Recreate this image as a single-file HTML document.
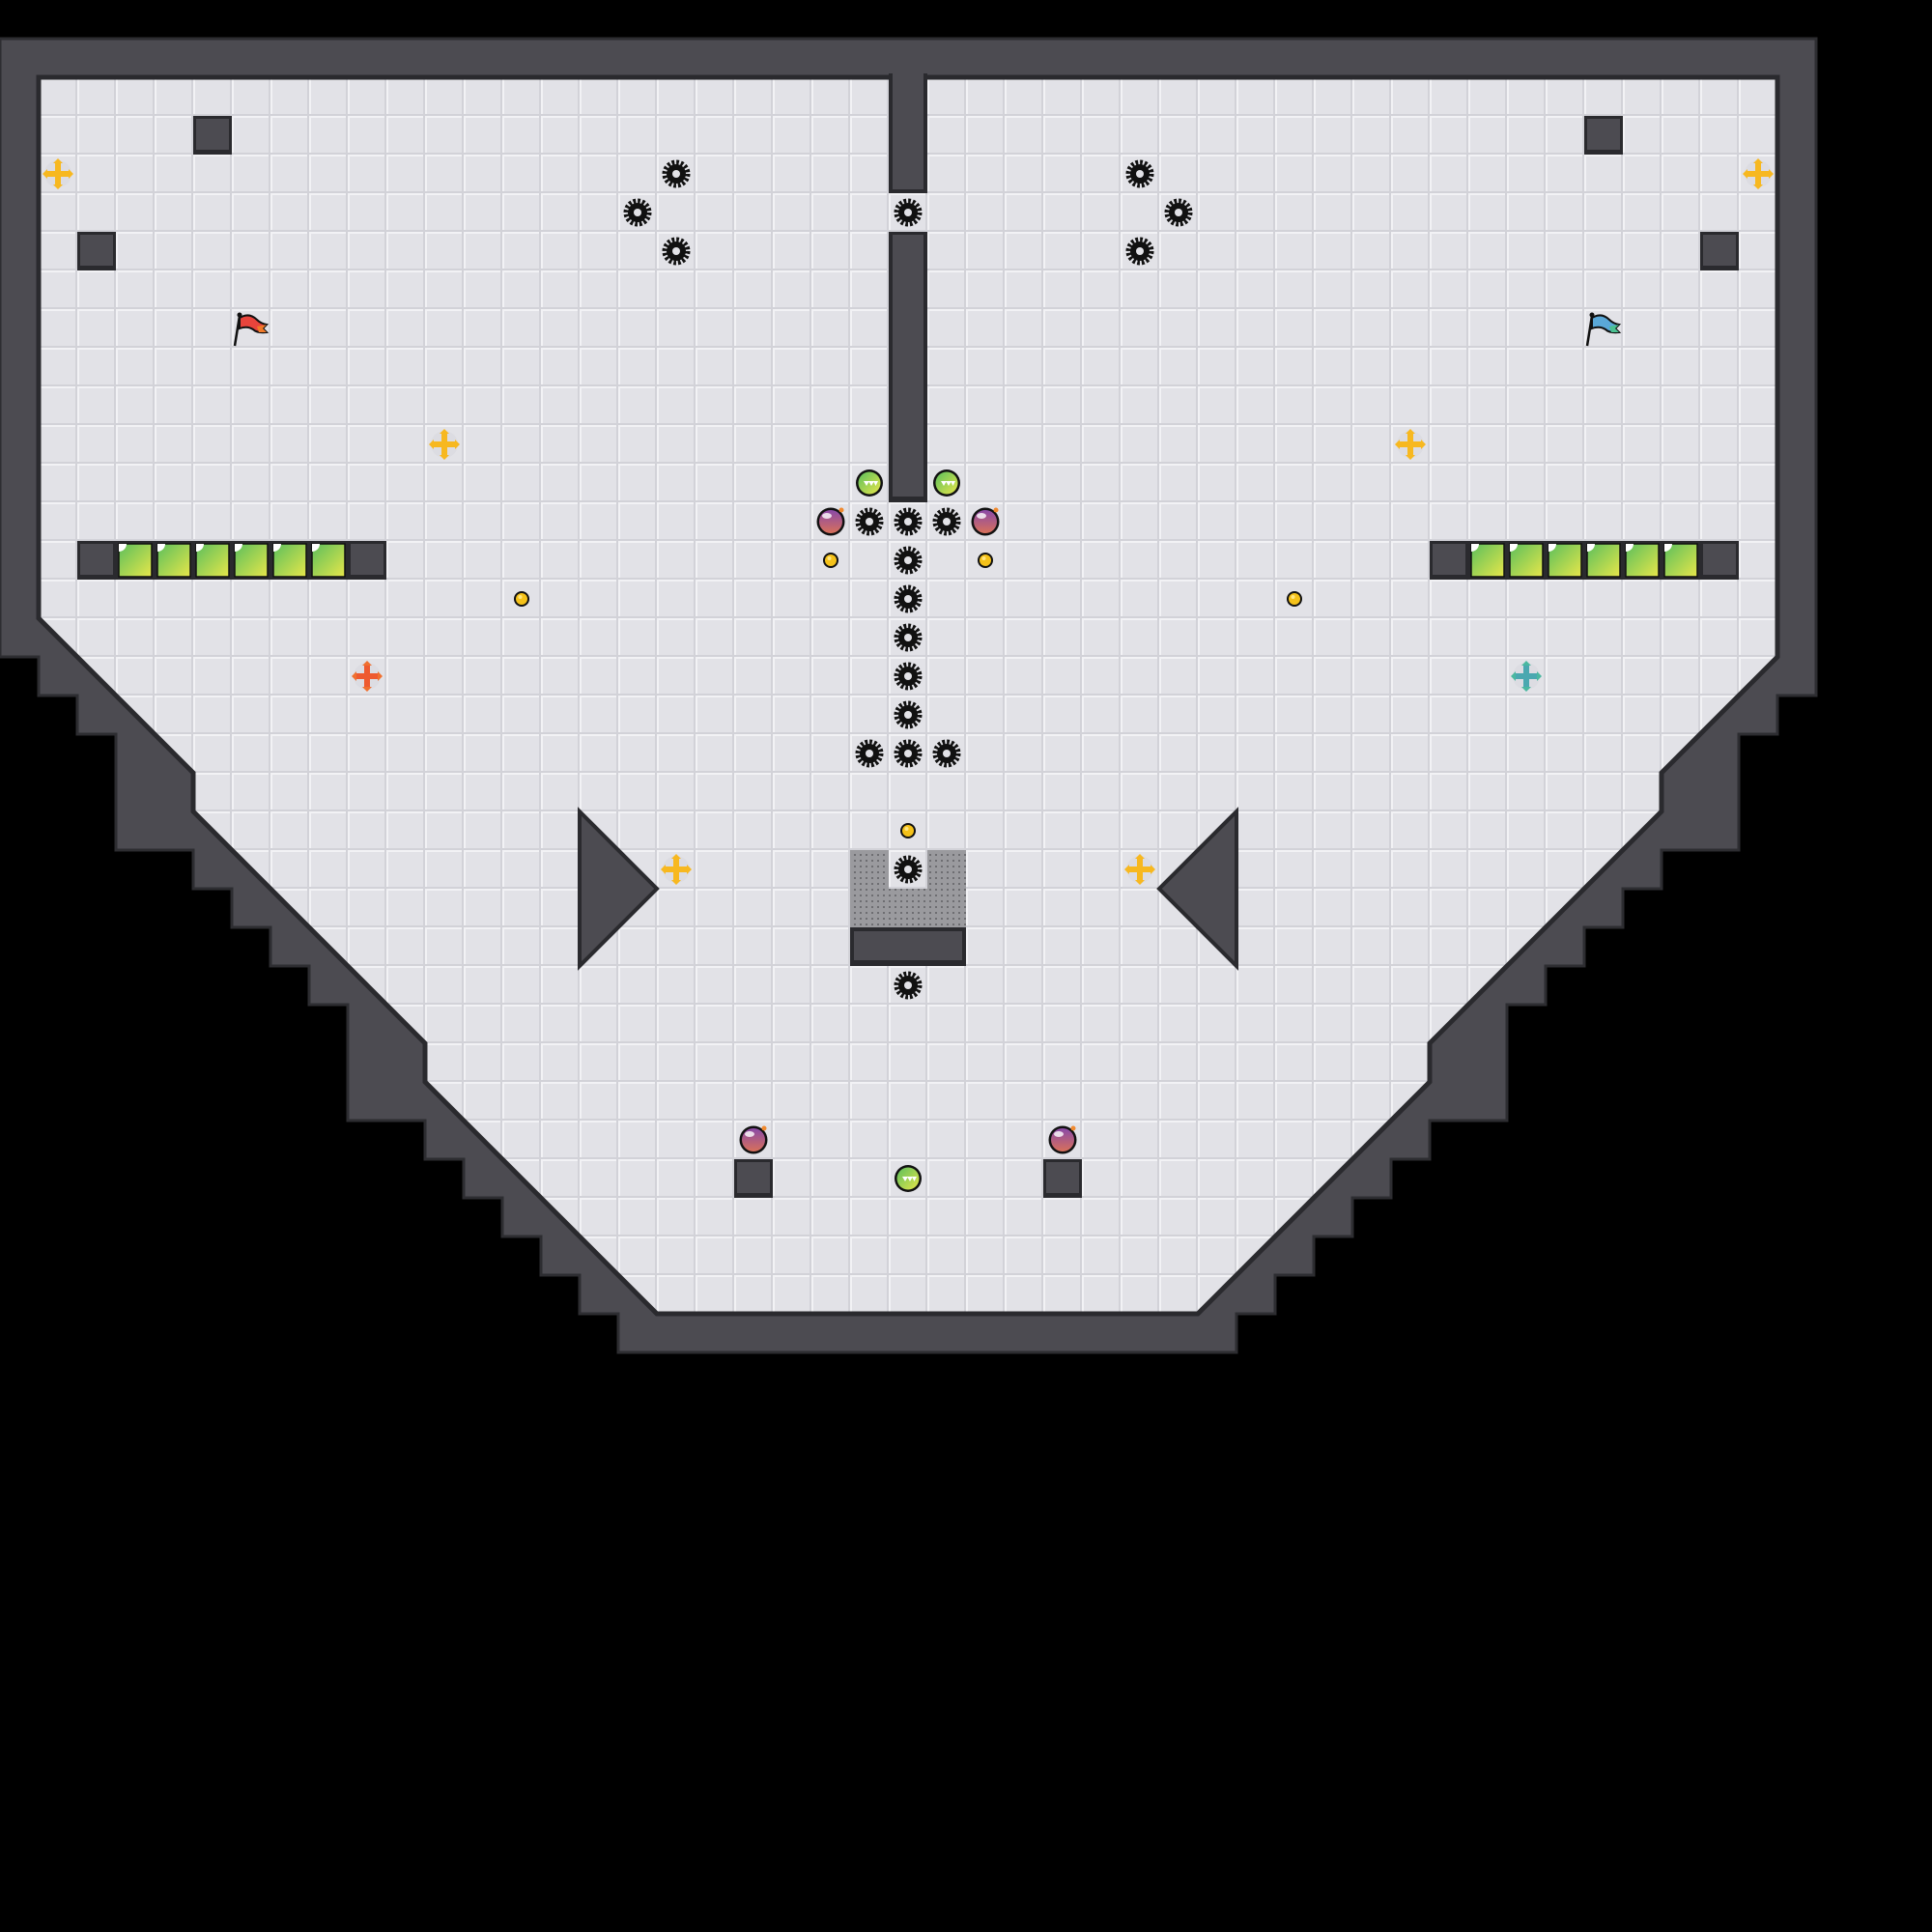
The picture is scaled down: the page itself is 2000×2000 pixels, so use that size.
<!DOCTYPE html>
<html><head><meta charset="utf-8"><style>
html,body{margin:0;padding:0;background:#000;}
svg{display:block;}
</style></head><body>
<svg width="2000" height="2000" viewBox="0 0 2000 2000" xmlns="http://www.w3.org/2000/svg">
<defs>
<pattern id="tile" width="40" height="40" patternUnits="userSpaceOnUse">
<rect width="40" height="40" fill="#e2e2e7"/>
<rect x="0" y="0" width="40" height="2" fill="#f2f2f5"/>
<rect x="0" y="0" width="2" height="40" fill="#f2f2f5"/>
<rect x="0" y="38" width="40" height="2" fill="#d2d2d8"/>
<rect x="38" y="0" width="2" height="40" fill="#d2d2d8"/>
</pattern>
<pattern id="dots" width="6" height="6" patternUnits="userSpaceOnUse">
<rect width="6" height="6" fill="#9a9a9e"/>
<rect x="2" y="2" width="2" height="2" fill="#6e6e72"/>
</pattern>
<linearGradient id="gg" x1="0" y1="0" x2="1" y2="1">
<stop offset="0" stop-color="#5cbf5c"/><stop offset="1" stop-color="#e6e64a"/>
</linearGradient>
<linearGradient id="pb" x1="0" y1="0" x2="0" y2="1">
<stop offset="0" stop-color="#8a4aa8"/><stop offset="1" stop-color="#d8705a"/>
</linearGradient>
<g id="gear">
<circle r="11.5" fill="none" stroke="#111" stroke-width="6" stroke-dasharray="2.6 1.9"/>
<circle r="10" fill="#111"/>
<circle r="4" fill="#e2e2e7"/>
</g>
<g id="wb">
<rect x="0" y="0" width="40" height="40" fill="#2a2a2e"/>
<rect x="3" y="3" width="34" height="32" fill="#4c4b51"/>
</g>
<g id="gate">
<rect x="0" y="0" width="40" height="40" fill="#2a2a2e"/>
<rect x="3" y="3" width="34" height="34" fill="url(#gg)" stroke="#111" stroke-width="1.5"/>
<path d="M3 3 h8 a8 8 0 0 1 -8 8 z" fill="#fff"/>
</g>
<g id="boost">
<circle r="14" fill="#111"/>
<circle r="11.5" fill="url(#gg)"/>
<path d="M-6 -2 l3 5 l3 -5 z M-1 -2 l3 5 l3 -5 z M4 -2 l2.5 5 l2.5 -5 z" fill="#fff"/>
</g>
<g id="bomb">
<circle r="14.5" fill="#111"/>
<circle r="12" fill="url(#pb)"/>
<ellipse cx="-4" cy="-6" rx="5" ry="3" fill="#fff" opacity="0.8"/>
<circle cx="11" cy="-12" r="2.5" fill="#f08a30"/>
</g>
<g id="dot">
<circle r="8" fill="#111"/>
<circle r="6" fill="#f5c21a"/>
<circle cx="-1.5" cy="-2" r="2" fill="#ffe680"/>
</g>
<g id="ycross">
<circle r="14" fill="#dcdce2"/>
<path d="M-3 -12 h6 v9 h9 v6 h-9 v9 h-6 v-9 h-9 v-6 h9 z" fill="#f7b820"/>
<path d="M0 -16 l5 5 h-10 z M0 16 l5 -5 h-10 z M-16 0 l5 5 v-10 z M16 0 l-5 5 v-10 z" fill="#f7b820"/>
</g>
</defs>

<!-- outer wall -->
<polygon fill="#4c4b51" stroke="#2d2d31" stroke-width="3" points="0,40 1880,40 1880,720 1840,720 1840,760 1800,760 1800,880 1720,880 1720,920 1680,920 1680,960 1640,960 1640,1000 1600,1000 1600,1040 1560,1040 1560,1160 1480,1160 1480,1200 1440,1200 1440,1240 1400,1240 1400,1280 1360,1280 1360,1320 1320,1320 1320,1360 1280,1360 1280,1400 640,1400 640,1360 600,1360 600,1320 560,1320 560,1280 520,1280 520,1240 480,1240 480,1200 440,1200 440,1160 360,1160 360,1040 320,1040 320,1000 280,1000 280,960 240,960 240,920 200,920 200,880 120,880 120,760 80,760 80,720 40,720 40,680 0,680"/>

<!-- floor -->
<polygon fill="url(#tile)" stroke="#2a2a2e" stroke-width="5" stroke-linejoin="miter" points="40,80 1840,80 1840,680 1720,800 1720,840 1480,1080 1480,1120 1240,1360 680,1360 440,1120 440,1080 200,840 200,800 40,640"/>

<!-- center wall -->
<rect x="920" y="76" width="40" height="124" fill="#2a2a2e"/>
<rect x="924" y="76" width="32" height="120" fill="#4c4b51"/>
<rect x="920" y="240" width="40" height="280" fill="#2a2a2e"/>
<rect x="924" y="243" width="32" height="271" fill="#4c4b51"/>

<!-- wall blocks -->
<use href="#wb" x="200" y="120"/>
<use href="#wb" x="80" y="240"/>
<use href="#wb" x="1640" y="120"/>
<use href="#wb" x="1760" y="240"/>
<use href="#wb" x="760" y="1200"/>
<use href="#wb" x="1080" y="1200"/>

<!-- gate rows -->
<use href="#wb" x="80" y="560"/>
<use href="#wb" x="360" y="560"/>
<use href="#gate" x="120" y="560"/><use href="#gate" x="160" y="560"/><use href="#gate" x="200" y="560"/><use href="#gate" x="240" y="560"/><use href="#gate" x="280" y="560"/><use href="#gate" x="320" y="560"/>
<use href="#wb" x="1480" y="560"/>
<use href="#wb" x="1760" y="560"/>
<use href="#gate" x="1520" y="560"/><use href="#gate" x="1560" y="560"/><use href="#gate" x="1600" y="560"/><use href="#gate" x="1640" y="560"/><use href="#gate" x="1680" y="560"/><use href="#gate" x="1720" y="560"/>

<!-- center structure -->
<rect x="880" y="880" width="40" height="40" fill="url(#dots)"/>
<rect x="960" y="880" width="40" height="40" fill="url(#dots)"/>
<rect x="880" y="920" width="40" height="40" fill="url(#dots)"/>
<rect x="920" y="920" width="40" height="40" fill="url(#dots)"/>
<rect x="960" y="920" width="40" height="40" fill="url(#dots)"/>
<rect x="880" y="960" width="120" height="40" fill="#2a2a2e"/>
<rect x="884" y="964" width="112" height="30" fill="#4c4b51"/>

<!-- triangles -->
<polygon points="600,840 680,920 600,1000" fill="#4c4b51" stroke="#2a2a2e" stroke-width="4"/>
<polygon points="1280,840 1200,920 1280,1000" fill="#4c4b51" stroke="#2a2a2e" stroke-width="4"/>

<!-- gears -->
<use href="#gear" x="700" y="180"/><use href="#gear" x="660" y="220"/><use href="#gear" x="700" y="260"/>
<use href="#gear" x="1180" y="180"/><use href="#gear" x="1220" y="220"/><use href="#gear" x="1180" y="260"/>
<use href="#gear" x="940" y="220"/>
<use href="#gear" x="900" y="540"/><use href="#gear" x="940" y="540"/><use href="#gear" x="980" y="540"/>
<use href="#gear" x="940" y="580"/><use href="#gear" x="940" y="620"/><use href="#gear" x="940" y="660"/><use href="#gear" x="940" y="700"/><use href="#gear" x="940" y="740"/>
<use href="#gear" x="900" y="780"/><use href="#gear" x="940" y="780"/><use href="#gear" x="980" y="780"/>
<rect x="922" y="882" width="36" height="36" fill="#e2e2e7"/>
<use href="#gear" x="940" y="900"/>
<use href="#gear" x="940" y="1020"/>

<!-- boosters -->
<use href="#boost" x="900" y="500"/><use href="#boost" x="980" y="500"/><use href="#boost" x="940" y="1220"/>
<!-- bombs -->
<use href="#bomb" x="860" y="540"/><use href="#bomb" x="1020" y="540"/><use href="#bomb" x="780" y="1180"/><use href="#bomb" x="1100" y="1180"/>
<!-- dots -->
<use href="#dot" x="860" y="580"/><use href="#dot" x="1020" y="580"/><use href="#dot" x="540" y="620"/><use href="#dot" x="1340" y="620"/><use href="#dot" x="940" y="860"/>
<!-- yellow crosses -->
<use href="#ycross" x="60" y="180"/><use href="#ycross" x="1820" y="180"/><use href="#ycross" x="460" y="460"/><use href="#ycross" x="1460" y="460"/><use href="#ycross" x="700" y="900"/><use href="#ycross" x="1180" y="900"/>
<!-- orange cross -->
<g transform="translate(380,700)">
<circle r="14" fill="#dcdce2"/>
<path d="M-3 -12 h6 v9 h9 v6 h-9 v9 h-6 v-9 h-9 v-6 h9 z" fill="#ee5a30"/>
<path d="M0 -16 l5 5 h-10 z M0 16 l5 -5 h-10 z M-16 0 l5 5 v-10 z M16 0 l-5 5 v-10 z" fill="#f07030"/>
</g>
<!-- teal cross -->
<g transform="translate(1580,700)">
<circle r="14" fill="#dcdce2"/>
<path d="M-3 -12 h6 v9 h9 v6 h-9 v9 h-6 v-9 h-9 v-6 h9 z" fill="#4aa8b0"/>
<path d="M0 -16 l5 5 h-10 z M0 16 l5 -5 h-10 z M-16 0 l5 5 v-10 z M16 0 l-5 5 v-10 z" fill="#4ab8a0"/>
</g>

<!-- flags -->
<g>
<line x1="243" y1="358" x2="248" y2="327" stroke="#111" stroke-width="2.5"/>
<circle cx="248" cy="326" r="2.5" fill="#111"/>
<path d="M248 329 q10 -6 18 2 q4 4 10 5 l-4 4 l4 4 q-10 1 -14 -3 q-6 -4 -14 -1 z" fill="#e8443c" stroke="#111" stroke-width="2"/>
<path d="M266 338 l10 -2 l-4 4 l4 4 l-8 0 z" fill="#f07a2a"/>
</g>
<g>
<line x1="1643" y1="358" x2="1648" y2="327" stroke="#111" stroke-width="2.5"/>
<circle cx="1648" cy="326" r="2.5" fill="#111"/>
<path d="M1648 329 q10 -6 18 2 q4 4 10 5 l-4 4 l4 4 q-10 1 -14 -3 q-6 -4 -14 -1 z" fill="#5aa8d8" stroke="#111" stroke-width="2"/>
<path d="M1666 338 l10 -2 l-4 4 l4 4 l-8 0 z" fill="#4ac090"/>
</g>
</svg>
</body></html>
